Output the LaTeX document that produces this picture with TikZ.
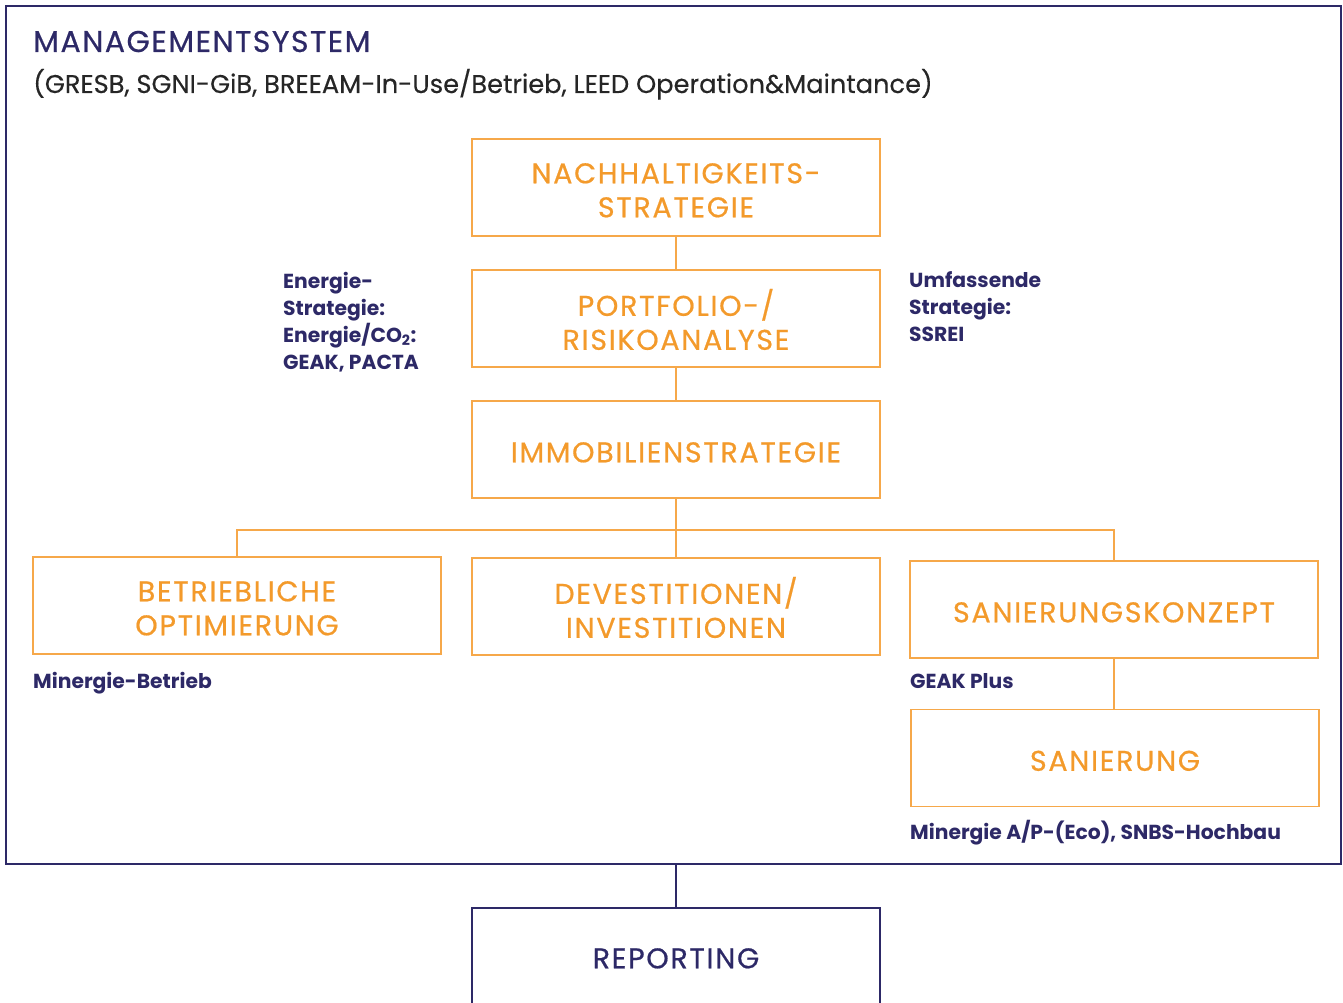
\documentclass[tikz,border=0pt]{standalone}
\usepackage{fontspec}
\setmainfont{Poppins}
\newfontfamily\boxfont[LetterSpace=6,FakeBold=0.6]{Poppins}
\newfontfamily\titlefont[LetterSpace=5,FakeBold=0.6]{Poppins}
\newfontfamily\subfont[FakeBold=0.3]{Poppins}
\newcommand{\boxtxt}[1]{\raisebox{-6pt}[\height][\depth]{\begin{tabular}{@{}c@{}}#1\end{tabular}}}
\definecolor{navy}{RGB}{45,41,103}
\definecolor{orline}{RGB}{246,168,74}
\definecolor{ortext}{RGB}{243,154,43}
\tikzset{
  x=1pt, y=-1pt,
  obox/.style={draw=orline, line width=1.3pt, minimum width=408pt, minimum height=97pt,
    inner sep=0pt, text=ortext, font=\boxfont\fontsize{28.5}{34}\selectfont},
  oline/.style={draw=orline, line width=1.3pt},
  nline/.style={draw=navy, line width=1.5pt},
  lbl/.style={text=navy, font=\bfseries\fontsize{20.3}{27}\selectfont, inner sep=0pt, align=left},
}
\begin{document}
\begin{tikzpicture}
\useasboundingbox (0,0) rectangle (1343,1003);
\node[nline, minimum width=1335pt, minimum height=858pt, inner sep=0pt] (frame) at (673.5,435) {};
\node[anchor=base west, inner sep=0pt, text=navy, font=\titlefont\fontsize{30}{34}\selectfont] (title) at (33,52) {MANAGEMENTSYSTEM};
\node[anchor=base west, inner sep=0pt, text=black!85, font=\subfont\fontsize{25.7}{30}\selectfont] (sub) at (33,93) {(GRESB, SGNI-GiB, BREEAM-In-Use/Betrieb, LEED Operation\&Maintance)};

\node[obox] (n1) at (676,187.5) {\boxtxt{NACHHALTIGKEITS-\\STRATEGIE}};
\node[obox] (n2) at (676,318.5) {\boxtxt{PORTFOLIO-/\\RISIKOANALYSE}};
\node[obox] (n3) at (676,449.5) {\boxtxt{IMMOBILIENSTRATEGIE}};
\node[obox] (b1) at (237,605.5) {\boxtxt{BETRIEBLICHE\\OPTIMIERUNG}};
\node[obox] (b2) at (676,606.5) {\boxtxt{DEVESTITIONEN/\\INVESTITIONEN}};
\node[obox] (b3) at (1114,609.5) {\boxtxt{SANIERUNGSKONZEPT}};
\node[obox] (b4) at (1115,758) {\boxtxt{SANIERUNG}};

\coordinate (hb) at (676,530);
\draw[oline] (n1) -- (n2);
\draw[oline] (n2) -- (n3);
\draw[oline] (n3) -- (hb);
\draw[oline] (b1.north) |- (hb) -| (b3.north);
\draw[oline] (hb) -- (b2.north);
\draw[oline] (b3.south) -- (b3.south |- b4.north);

\node[lbl, anchor=north west] (l1) at (283,272) {Energie-\\Strategie:\\Energie/CO\textsubscript{2}:\\GEAK, PACTA};
\node[lbl, anchor=north west] (l2) at (909,271) {Umfassende\\Strategie:\\SSREI};
\node[lbl, anchor=base west] (l3) at (33,688) {Minergie-Betrieb};
\node[lbl, anchor=base west] (l4) at (910,688) {GEAK Plus};
\node[lbl, anchor=base west] (l5) at (910,839) {Minergie A/P-(Eco), SNBS-Hochbau};

\node[minimum width=408pt, minimum height=95pt, inner sep=0pt, text=navy, font=\boxfont\fontsize{28.5}{34}\selectfont] (rep) at (676,955.5) {\boxtxt{REPORTING}};
\draw[nline] (rep.south west) -- (rep.north west) -- (rep.north east) -- (rep.south east);
\draw[nline] (frame.south -| rep.north) -- (rep.north);
\end{tikzpicture}
\end{document}
